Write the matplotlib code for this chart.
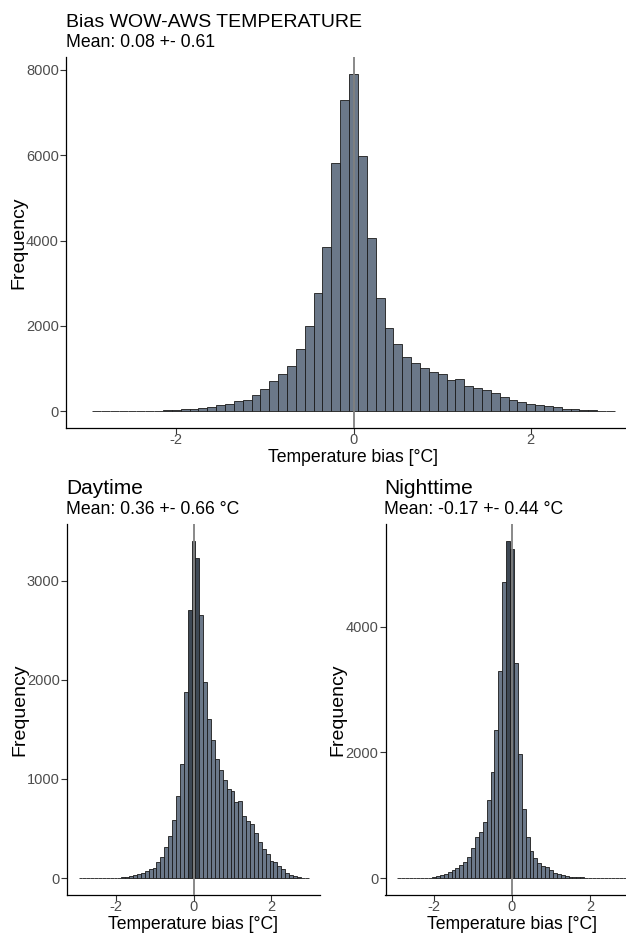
import numpy as np
import matplotlib
matplotlib.use("Agg")
import matplotlib.pyplot as plt

plt.rcParams['font.family'] = ['Liberation Sans', 'DejaVu Sans']

# ---- data (bin centres, width 0.1) ----
bin_centers = [round(-2.9 + 0.1 * i, 1) for i in range(59)]

all_counts = [2, 3, 4, 5, 6, 8, 10, 12, 15, 23, 39, 47, 70, 93, 148, 179, 249, 272,
              389, 513, 715, 863, 1049, 1461, 1998, 2768, 3856, 5823, 7292,
              7907,
              5986, 4058, 2651, 1944, 1563, 1275, 1119, 1018, 910, 878, 731, 754,
              599, 544, 505, 420, 342, 272, 225, 179, 155, 117, 86, 54, 39, 31, 16, 8, 5]

day_counts = [1, 1, 1, 1, 1, 2, 2, 3, 3, 4, 5, 7, 10, 17, 27, 37, 54, 67, 90, 107,
              164, 218, 315, 425, 586, 830, 1155, 1881, 2704,
              3400,
              3230, 2657, 1978, 1603, 1396, 1198, 1088, 991, 900, 877, 766, 780,
              626, 572, 546, 455, 368, 295, 248, 177, 161, 124, 94, 50, 27, 23, 10, 3, 2]

night_counts = [1, 2, 3, 3, 4, 5, 6, 8, 10, 21, 32, 42, 63, 95, 127, 164, 206, 264,
                338, 481, 650, 740, 893, 1242, 1691, 2356, 3297, 4707, 5368,
                5241,
                3423, 1971, 1094, 655, 433, 322, 243, 195, 174, 132, 79, 63, 48, 37,
                26, 21, 16, 11, 8, 6, 5, 4, 3, 3, 2, 2, 1, 1, 1]

titles = ["Bias WOW-AWS TEMPERATURE", "Daytime", "Nighttime"]
subtitles = ["Mean: 0.08 +- 0.61", "Mean: 0.36 +- 0.66 °C", "Mean: -0.17 +- 0.44 °C"]
yticks_list = [[0, 2000, 4000, 6000, 8000], [0, 1000, 2000, 3000], [0, 2000, 4000]]
xticks = [-2, 0, 2]

FILL = '#6B7889'
DARK = '#3E4854'
EDGE = '#1A1A1A'

W, H = 626, 933
fig = plt.figure(figsize=(W / 100, H / 100), dpi=100)


def px_axes(left, top, right, bottom):
    return fig.add_axes([left / W, 1 - bottom / H, (right - left) / W, (bottom - top) / H])


def style(ax):
    for s in ['top', 'right']:
        ax.spines[s].set_visible(False)
    for s in ['left', 'bottom']:
        ax.spines[s].set_color('#000000')
        ax.spines[s].set_linewidth(0.9)
    ax.tick_params(direction='out', length=4, width=0.8, color='#333333',
                   labelcolor='#4D4D4D', labelsize=10.5)
    ax.tick_params(axis='x', pad=-0.3)
    ax.tick_params(axis='y', pad=1.2)


def hist(ax, counts, dark_bins, yticks):
    cols = [DARK if c in dark_bins else FILL for c in bin_centers]
    ax.bar(bin_centers, counts, width=0.1, color=cols, edgecolor=EDGE,
           linewidth=0.6, zorder=2)
    ax.axvline(0, color='#808080', lw=1.3, zorder=3)
    m = max(counts)
    ax.set_xlim(-3.245, 3.245)
    ax.set_ylim(-0.05 * m, 1.05 * m)
    ax.set_xticks(xticks)
    ax.set_xticklabels([str(t) for t in xticks])
    ax.set_yticks(yticks)
    style(ax)
    ax.set_xlabel('Temperature bias [°C]', fontsize=12.7, labelpad=1.0)
    ax.set_ylabel('Frequency', fontsize=14, labelpad=-0.8)


ax1 = px_axes(66, 57, 641, 428)
hist(ax1, all_counts, [], yticks_list[0])
ax2 = px_axes(67, 524, 320, 895)
hist(ax2, day_counts, [-0.1, 0.0, 0.1], yticks_list[1])
ax3 = px_axes(385.5, 524, 638.5, 895)
hist(ax3, night_counts, [-0.1, 0.0], yticks_list[2])

fig.text(66 / W, 1 - 27 / H, titles[0], fontsize=14, va='baseline', ha='left')
fig.text(66 / W, 1 - 47 / H, subtitles[0], fontsize=12.7, va='baseline', ha='left')
fig.text(66 / W, 1 - 494 / H, titles[1], fontsize=15, va='baseline', ha='left')
fig.text(66 / W, 1 - 514 / H, subtitles[1], fontsize=12.7, va='baseline', ha='left')
fig.text(384 / W, 1 - 494 / H, titles[2], fontsize=15, va='baseline', ha='left')
fig.text(384 / W, 1 - 514 / H, subtitles[2], fontsize=12.7, va='baseline', ha='left')

fig.savefig('out.png', dpi=100)
